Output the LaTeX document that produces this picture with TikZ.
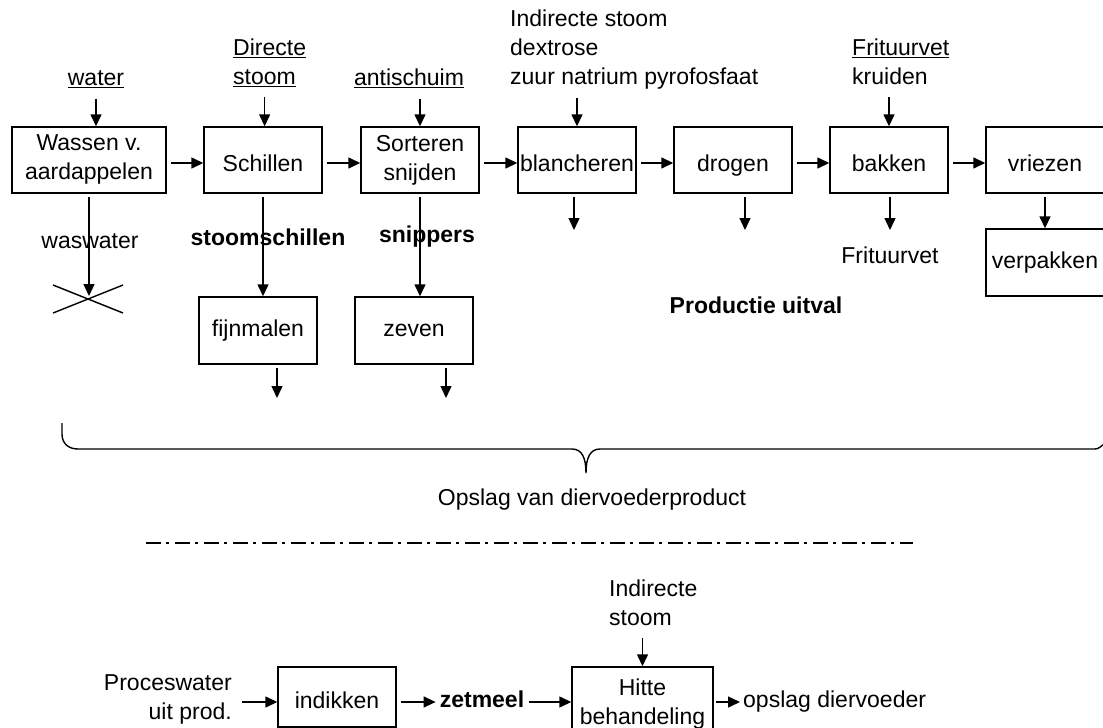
\documentclass[tikz,border=0pt]{standalone}
\usepackage{fontspec}
\setmainfont{Liberation Sans}
\usetikzlibrary{arrows.meta}
\usetikzlibrary{positioning}
\newcommand{\groot}{\fontsize{23}{29}\selectfont}
\tikzset{>={Triangle[length=12pt,width=11pt]}}
\tikzset{stap/.style={draw, line width=1.4pt, minimum width=118pt, minimum height=66pt, inner sep=2pt, align=center, font=\groot}}
\tikzset{bovenrij/.style={stap, execute at begin node=\rule[-5pt]{0pt}{32pt}}}
\tikzset{onder/.style={stap, minimum height=67pt, execute at begin node=\strut}}
\tikzset{lbl/.style={inner sep=1pt, align=left, font=\groot, execute at begin node=\strut}}
\tikzset{vet/.style={inner sep=1pt, font=\groot\bfseries, execute at begin node=\strut}}
\tikzset{stroom/.style={->, line width=1.4pt, shorten <=3pt}}

\begin{document}
\begin{tikzpicture}[x=1pt, y=-1pt]
        \useasboundingbox (0,0) rectangle (1103,728);
        \clip (0,0) rectangle (1103,728);

        % hoofdlijn
        \node[bovenrij, minimum width=154pt] (wassen) at (89,160) {Wassen v.\\aardappelen};
        \node[bovenrij] (schillen) at (263,160) {Schillen};
        \node[bovenrij] (sorteren) at (420,160) {Sorteren\\snijden};
        \node[bovenrij, inner xsep=0pt] (blancheren) at (577,160) {blancheren};
        \node[bovenrij] (drogen) at (733,160) {drogen};
        \node[bovenrij] (bakken) at (889,160) {bakken};
        \node[bovenrij] (vriezen) at (1045,160) {vriezen};
        \node[onder] (verpakken) at (1045,262.5) {verpakken};
        \node[onder] (fijnmalen) at (258,330.5) {fijnmalen};
        \node[onder] (zeven) at (414,330.5) {zeven};

        % toevoer
        \node[lbl] (water) at (96,80) {\underline{water}};
        \node[lbl, anchor=west] (directe) at (232,66) {\underline{Directe}\\\underline{stoom}};
        \node[lbl] (antischuim) at (409,80) {\underline{antischuim}};
        \node[lbl, anchor=west] (indirect) at (509,52) {Indirecte stoom\\dextrose\\zuur natrium pyrofosfaat};
        \node[lbl, anchor=west] (frituur) at (851,66) {\underline{Frituurvet}\\kruiden};

        \draw[stroom] (water.south) -- (water.south |- wassen.north);
        \draw[stroom] ([xshift=-5pt]directe.south) -- ([xshift=-5pt]directe.south |- schillen.north);
        \draw[stroom] (antischuim.south -| sorteren.north) -- (sorteren.north);
        \draw[stroom] (indirect.south -| blancheren.north) -- (blancheren.north);
        \draw[stroom] (frituur.south -| bakken.north) -- (bakken.north);

        \draw[stroom, shorten <=4pt] ([yshift=-3pt]wassen.east) -- ([yshift=-3pt]schillen.west);
        \draw[stroom, shorten <=4pt] ([yshift=-3pt]schillen.east) -- ([yshift=-3pt]sorteren.west);
        \draw[stroom, shorten <=4pt] ([yshift=-3pt]sorteren.east) -- ([yshift=-3pt]blancheren.west);
        \draw[stroom, shorten <=4pt] ([yshift=-3pt]blancheren.east) -- ([yshift=-3pt]drogen.west);
        \draw[stroom, shorten <=4pt] ([yshift=-3pt]drogen.east) -- ([yshift=-3pt]bakken.west);
        \draw[stroom, shorten <=4pt] ([yshift=-3pt]bakken.east) -- ([yshift=-3pt]vriezen.west);

        % afvoer
        \node[lbl] (waswater) at (90,243) {waswater};
        \node[vet] (stoomsch) at (268,240) {stoomschillen};
        \node[vet] (snippers) at (427,237) {snippers};
        \node[lbl] (frituurvet) at (890,258) {Frituurvet};
        \node[vet] (uitval) at (756,308) {Productie uitval};

        \coordinate (put) at (89,296);
        \coordinate (uitF) at (277,398);
        \coordinate (uitZ) at (446,398);
        \coordinate (uitB) at (574,230);
        \coordinate (uitD) at (745,230);
        \coordinate (uitK) at (890,230);

        \draw[stroom] (wassen.south) -- (put);
        \draw[line width=1.4pt] (53,285) -- (123,313) (53,313) -- (123,285);
        \draw[stroom] (schillen.south) -- (schillen.south |- fijnmalen.north);
        \draw[stroom] (sorteren.south) -- (sorteren.south |- zeven.north);
        \draw[stroom] (uitF |- fijnmalen.south) -- (uitF);
        \draw[stroom] (uitZ |- zeven.south) -- (uitZ);
        \draw[stroom] (uitB |- blancheren.south) -- (uitB);
        \draw[stroom] (uitD |- drogen.south) -- (uitD);
        \draw[stroom] (uitK |- bakken.south) -- (uitK);
        \draw[stroom] (vriezen) -- (verpakken);

        % accolade
        \draw[line width=1.4pt] (62,423) -- (62,434) .. controls (62,444) and (69,449) .. (78,449)
         -- (572,449) .. controls (582,449) and (586,458) .. (586,473)
         .. controls (586,458) and (590,449) .. (600,449)
         -- (1095,449) .. controls (1099,449) and (1101,446) .. (1104,444);
        \node[lbl] (opslag) at (592,500) {Opslag van diervoederproduct};

        \draw[line width=1.6pt, dash pattern=on 15pt off 5pt on 3pt off 6pt] (146,543) -- (913,543);

        % zetmeel
        \node[lbl, align=right, anchor=east] (proces) at (233,701) {Proceswater\\uit prod.};
        \node[bovenrij, minimum height=60pt] (indikken) at (337,697) {indikken};
        \node[vet] (zetmeel) at (482,702) {zetmeel};
        \node[bovenrij, minimum width=141pt, minimum height=74pt] (hitte) at (642.5,704) {Hitte\\behandeling};
        \node[lbl, anchor=west] (opslagdv) at (742,702) {opslag diervoeder};
        \node[lbl, anchor=west] (indstoom) at (608,607) {Indirecte\\stoom};

        \draw[stroom, shorten <=9pt] (proces.east |- zetmeel.west) -- (indikken.west |- zetmeel.west);
        \draw[stroom, shorten <=4pt, shorten >=3pt] (indikken.east |- zetmeel.west) -- (zetmeel.west);
        \draw[stroom, shorten <=4pt] (zetmeel.east) -- (hitte.west |- zetmeel.east);
        \draw[stroom, shorten <=2pt, shorten >=2pt] (hitte.east |- opslagdv.west) -- (opslagdv.west);
        \draw[stroom] (indstoom.south -| hitte.north) -- (hitte.north);
\end{tikzpicture}
\end{document}
